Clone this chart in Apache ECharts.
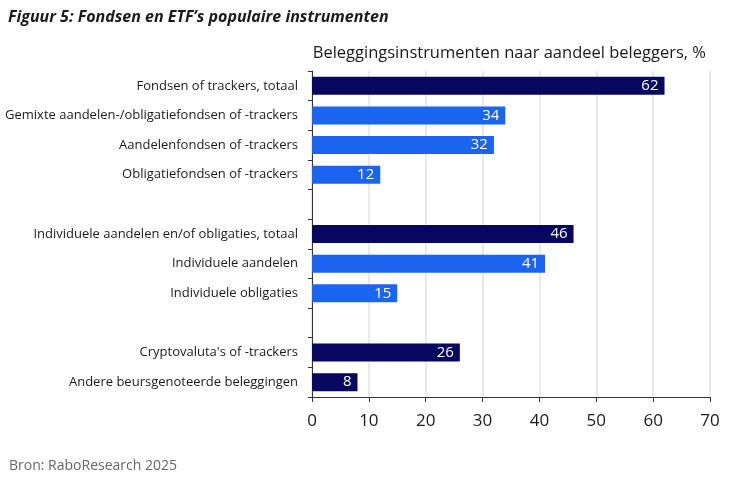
<!DOCTYPE html>
<html>
<head>
<meta charset="utf-8">
<script src="https://cdn.jsdelivr.net/npm/echarts@6/dist/echarts.min.js"></script>
<style>
	html, body { margin: 0; padding: 0; background: #fff; }
	#chart { width: 730px; height: 486px; }
</style>
</head>
<body>
<div id="chart"></div>
<script>
	const categories = [
		"Fondsen of trackers, totaal",
		"Gemixte aandelen-/obligatiefondsen of -trackers",
		"Aandelenfondsen of -trackers",
		"Obligatiefondsen of -trackers",
		"",
		"Individuele aandelen en/of obligaties, totaal",
		"Individuele aandelen",
		"Individuele obligaties",
		" ",
		"Cryptovaluta's of -trackers",
		"Andere beursgenoteerde beleggingen"
	];
	const values = [62, 34, 32, 12, null, 46, 41, 15, null, 26, 8];
	const isTotal = [true, false, false, false, false, true, false, false, false, true, true];
	const xTicks = [0, 10, 20, 30, 40, 50, 60, 70];

	const navy = "#07075f";
	const blue = "#1b64f0";
	const font = "'Open Sans', 'Noto Sans', sans-serif";

	const chart = echarts.init(document.getElementById("chart"));

	chart.setOption({
		animation: false,
		textStyle: { fontFamily: font },
		title: [
			{
				text: "Figuur 5: Fondsen en ETF\u2019s populaire instrumenten",
				left: 3,
				top: 4,
				textStyle: { fontFamily: font, fontSize: 16, fontWeight: "bold", fontStyle: "italic", color: "#1a1a1a" }
			},
			{
				text: "Beleggingsinstrumenten naar aandeel beleggers, %",
				right: 19,
				top: 40,
				textStyle: { fontFamily: font, fontSize: 16.5, fontWeight: "normal", color: "#1a1a1a" }
			},
			{
				text: "Bron: RaboResearch 2025",
				left: 4,
				top: 454,
				textStyle: { fontFamily: font, fontSize: 14, fontWeight: "normal", color: "#666" }
			}
		],
		grid: { left: 312, right: 20, top: 71, bottom: 89, containLabel: false },
		xAxis: {
			type: "value",
			min: xTicks[0],
			max: xTicks[xTicks.length - 1],
			interval: 10,
			axisLine: { show: true, lineStyle: { color: "#333" } },
			axisTick: { show: true, length: 5, lineStyle: { color: "#333" } },
			axisLabel: { fontSize: 17, color: "#1a1a1a", margin: 16, fontFamily: font },
			splitLine: { show: true, lineStyle: { color: "#e2e2e2", width: 1.5 } }
		},
		yAxis: {
			type: "category",
			data: categories,
			inverse: true,
			axisLine: { show: true, lineStyle: { color: "#333" } },
			axisTick: { show: true, length: 4, inside: false, lineStyle: { color: "#333" } },
			axisLabel: { fontSize: 13, color: "#1a1a1a", margin: 14, fontFamily: font }
		},
		series: [
			{
				type: "bar",
				barWidth: 18,
				data: values.map((v, i) => ({
					value: v,
					itemStyle: { color: isTotal[i] ? navy : blue }
				})),
				label: {
					show: true,
					position: "insideRight",
					distance: 6,
					color: "#fff",
					fontSize: 15,
					fontFamily: font
				}
			}
		]
	});
</script>
</body>
</html>
